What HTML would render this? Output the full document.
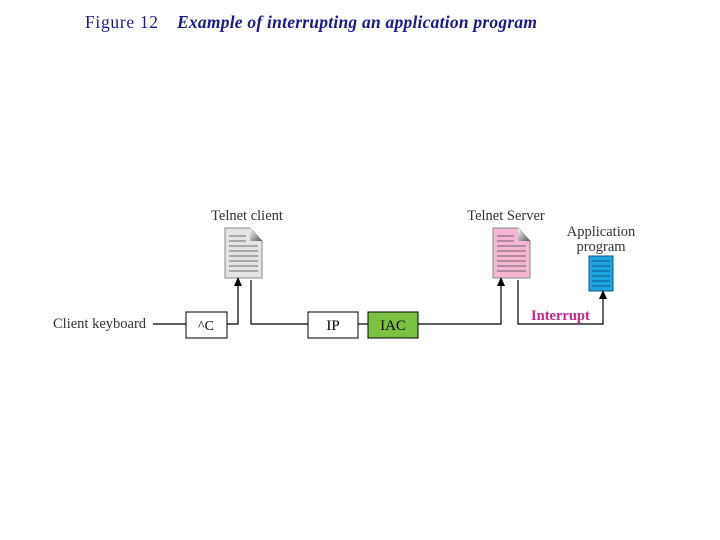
<!DOCTYPE html><html><head><style>body{margin:0;background:#fff}svg{display:block}</style></head><body>
<svg width="720" height="540" xmlns="http://www.w3.org/2000/svg" font-family="Liberation Serif, serif">
<defs>
<linearGradient id="g" x1="0" y1="0" x2="1" y2="1"><stop offset="0" stop-color="#fff"/><stop offset="1" stop-color="#555"/></linearGradient>
</defs>
<text x="85" y="28" font-size="17.5" fill="#1a1a8c" textLength="73">Figure 12</text>
<text x="177" y="28" font-size="17.5" font-style="italic" font-weight="bold" fill="#1a1a8c" textLength="360">Example of interrupting an application program</text>
<g font-size="14.5" fill="#333">
<text x="247" y="220" text-anchor="middle">Telnet client</text>
<text x="506" y="220" text-anchor="middle">Telnet Server</text>
<text x="601" y="236" text-anchor="middle">Application</text>
<text x="601" y="251" text-anchor="middle">program</text>
<text x="53" y="328">Client keyboard</text>
</g>
<path d="M225,228 H250 L262,241 V278 H225 Z" fill="#e4e4e4" stroke="#888"/>
<path d="M250,228 V241 H262 Z" fill="url(#g)"/>
<g stroke="#444" stroke-width="0.8">
<line x1="229" y1="236" x2="246" y2="236"/><line x1="229" y1="241" x2="246" y2="241"/><line x1="229" y1="246" x2="258" y2="246"/><line x1="229" y1="251" x2="258" y2="251"/><line x1="229" y1="256" x2="258" y2="256"/><line x1="229" y1="261" x2="258" y2="261"/><line x1="229" y1="266" x2="258" y2="266"/><line x1="229" y1="271" x2="258" y2="271"/>
</g>
<path d="M493,228 H518 L530,241 V278 H493 Z" fill="#f4b6d2" stroke="#888"/>
<path d="M518,228 V241 H530 Z" fill="url(#g)"/>
<g stroke="#444" stroke-width="0.8">
<line x1="497" y1="236" x2="514" y2="236"/><line x1="497" y1="241" x2="514" y2="241"/><line x1="497" y1="246" x2="526" y2="246"/><line x1="497" y1="251" x2="526" y2="251"/><line x1="497" y1="256" x2="526" y2="256"/><line x1="497" y1="261" x2="526" y2="261"/><line x1="497" y1="266" x2="526" y2="266"/><line x1="497" y1="271" x2="526" y2="271"/>
</g>
<rect x="589" y="256" width="24" height="35" fill="#1ea5e0" stroke="#0a5a8a"/>
<g stroke="#0a3d66" stroke-width="0.7"><line x1="592" y1="261" x2="610" y2="261"/><line x1="592" y1="266" x2="610" y2="266"/><line x1="592" y1="271" x2="610" y2="271"/><line x1="592" y1="276" x2="610" y2="276"/><line x1="592" y1="281" x2="610" y2="281"/><line x1="592" y1="286" x2="610" y2="286"/></g>
<g stroke="#000" stroke-width="1.2" fill="none">
<line x1="153" y1="324" x2="186" y2="324"/>
<polyline points="227,324 238,324 238,284"/>
<polyline points="251,280 251,324 308,324"/>
<line x1="358" y1="324" x2="368" y2="324"/>
<polyline points="418,324 501,324 501,284"/>
<polyline points="518,280 518,324 603,324 603,297"/>
</g>
<g fill="#000">
<path d="M234,286 L238,277 L242,286 Z"/>
<path d="M497,286 L501,277 L505,286 Z"/>
<path d="M599,299 L603,290 L607,299 Z"/>
</g>
<rect x="186" y="312" width="41" height="26" fill="#fff" stroke="#000"/>
<text x="206" y="330" font-size="14" text-anchor="middle">^C</text>
<rect x="308" y="312" width="50" height="26" fill="#fff" stroke="#000"/>
<text x="333" y="330" font-size="15" text-anchor="middle">IP</text>
<rect x="368" y="312" width="50" height="26" fill="#7cc242" stroke="#000"/>
<text x="393" y="330" font-size="15" text-anchor="middle">IAC</text>
<text x="531" y="320" font-size="14.5" font-weight="bold" fill="#c8238c">Interrupt</text>
</svg>
</body></html>
